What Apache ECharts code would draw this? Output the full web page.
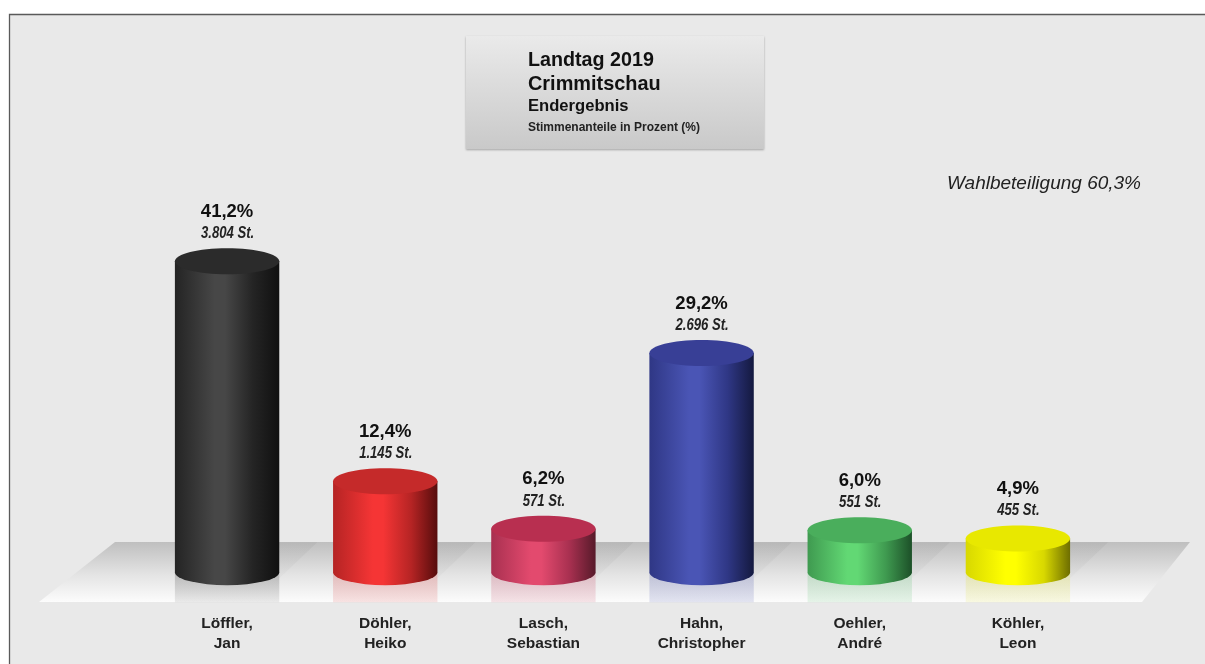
<!DOCTYPE html>
<html><head><meta charset="utf-8">
<style>html,body{margin:0;padding:0;background:#fff}#c{width:1205px;height:664px}</style>
<script src="https://cdn.jsdelivr.net/npm/echarts@6/dist/echarts.min.js"></script>
</head><body><div id="c"></div>
<script>
const categories = ['Löffler,\nJan','Döhler,\nHeiko','Lasch,\nSebastian','Hahn,\nChristopher','Oehler,\nAndré','Köhler,\nLeon'];
const percentValues = [41.2,12.4,6.2,29.2,6.0,4.9];
const percentLabels = ['41,2%','12,4%','6,2%','29,2%','6,0%','4,9%'];
const voteLabels = ['3.804 St.','1.145 St.','571 St.','2.696 St.','551 St.','455 St.'];
const sideLight = ['#474747','#f53535','#e34a6e','#4a55b5','#62d874','#ffff00'];
const sideMid = ['#242424','#b52424','#a83050','#2f3785','#3f9a50','#d8d800'];
const sideDark = ['#101010','#560c0c','#571a2a','#14193f','#1c5028','#6e6e00'];
const capColor = ['#2b2b2b','#c52a2a','#b82f50','#383f96','#4aae5c','#e8e800'];
const reflectColor = ['rgba(120,120,120,0.40)','rgba(220,70,70,0.26)','rgba(200,70,100,0.26)','rgba(70,80,170,0.24)','rgba(90,190,110,0.24)','rgba(225,225,60,0.28)'];

const chart = echarts.init(document.getElementById('c'), null, {renderer:'canvas'});
const F = '"Liberation Sans", Arial, sans-serif';

function renderCylinder(params, api){
  const i = api.value(0);
  const top = api.coord([i, api.value(1)]);
  const base = api.coord([i, 0.5]);
  const w = api.size([1,0])[0] * 0.66;
  const rx = w/2, ry = 13;
  const x = top[0]-rx;
  const grad = new echarts.graphic.LinearGradient(0,0,1,0,[
    {offset:0,color:sideMid[i]},{offset:0.38,color:sideLight[i]},{offset:0.48,color:sideLight[i]},
    {offset:0.75,color:sideMid[i]},{offset:1,color:sideDark[i]}]);
  const floorBack = base[1]-30, floorFront = base[1]+30;
  const shadowW = 38;
  return {type:'group',children:[
    {type:'polygon',shape:{points:[[x+w,floorBack],[x+w+shadowW,floorBack],[x+w,base[1]+6]]},
      style:{fill:new echarts.graphic.LinearGradient(0,0,0,1,[{offset:0,color:'rgba(90,90,90,0.08)'},{offset:1,color:'rgba(90,90,90,0.03)'}])}},
    {type:'rect',shape:{x:x,y:base[1],width:w,height:floorFront-base[1]},
      style:{fill:new echarts.graphic.LinearGradient(0,0,0,1,[{offset:0,color:reflectColor[i]},{offset:1,color:reflectColor[i].replace(/[\d.]+\)$/,'0.14)')}])}},
    {type:'path',shape:{pathData:`M${x} ${top[1]} L${x} ${base[1]} A${rx} ${ry} 0 0 0 ${x+w} ${base[1]} L${x+w} ${top[1]} Z`},
      style:{fill:grad}},
    {type:'ellipse',shape:{cx:top[0],cy:top[1],rx:rx,ry:ry},style:{fill:capColor[i]}},
    {type:'text',x:top[0],y:top[1]-49.5,style:{text:percentLabels[i],font:'bold 18.5px '+F,fill:'#111',align:'center',verticalAlign:'middle'}},
    {type:'text',x:top[0]+0.5,y:top[1]-27.5,scaleX:0.82,style:{text:voteLabels[i],font:'italic bold 16px '+F,fill:'#222',align:'center',verticalAlign:'middle'}}
  ]};
}

chart.setOption({
  animation:false,
  backgroundColor:'#fff',
  title:[
    {text:'Landtag 2019',left:523,top:46,textStyle:{fontFamily:F,fontSize:19.7,fontWeight:'bold',color:'#111'}},
    {text:'Crimmitschau',left:523,top:70,textStyle:{fontFamily:F,fontSize:19.9,fontWeight:'bold',color:'#111'}},
    {text:'Endergebnis',left:523,top:93,textStyle:{fontFamily:F,fontSize:16.6,fontWeight:'bold',color:'#111'}},
    {text:'Stimmenanteile in Prozent (%)',left:523,top:117,textStyle:{fontFamily:F,fontSize:12,fontWeight:'bold',color:'#222'}},
    {text:'Wahlbeteiligung 60,3%',left:942,top:169,textStyle:{fontFamily:F,fontSize:19,fontStyle:'italic',fontWeight:'normal',color:'#222'}}
  ],
  graphic:[
    {type:'rect',z:-10,silent:true,shape:{x:9.5,y:14.5,width:1200,height:660},style:{fill:'#e9e9e9',stroke:'#5a5a5a',lineWidth:1.3}},
    {type:'rect',z:-9,silent:true,shape:{x:466,y:36,width:298,height:113},
      style:{fill:new echarts.graphic.LinearGradient(0,0,0,1,[{offset:0,color:'#eaeaea'},{offset:1,color:'#c9c9c9'}]),shadowBlur:2,shadowColor:'rgba(0,0,0,0.3)',shadowOffsetY:1}},
    {type:'polygon',z:-8,silent:true,shape:{points:[[115,542],[1190,542],[1142,602],[39,602]]},
      style:{fill:new echarts.graphic.LinearGradient(0,0,0,1,[{offset:0,color:'#bfbfbf'},{offset:0.55,color:'#e4e4e4'},{offset:1,color:'#fcfcfc'}])}}
  ],
  grid:{left:148,right:108,top:26,height:550},
  xAxis:{type:'category',data:categories,axisLine:{show:false},axisTick:{show:false},
    axisLabel:{margin:38,interval:0,lineHeight:20,fontFamily:F,fontSize:15.5,fontWeight:'bold',color:'#222'}},
  yAxis:{type:'value',min:0,max:72,show:false,splitLine:{show:false}},
  series:[{type:'custom',renderItem:renderCylinder,clip:false,
    data:percentValues.map((v,i)=>[i,v]),encode:{x:0,y:1}}]
});
</script></body></html>
